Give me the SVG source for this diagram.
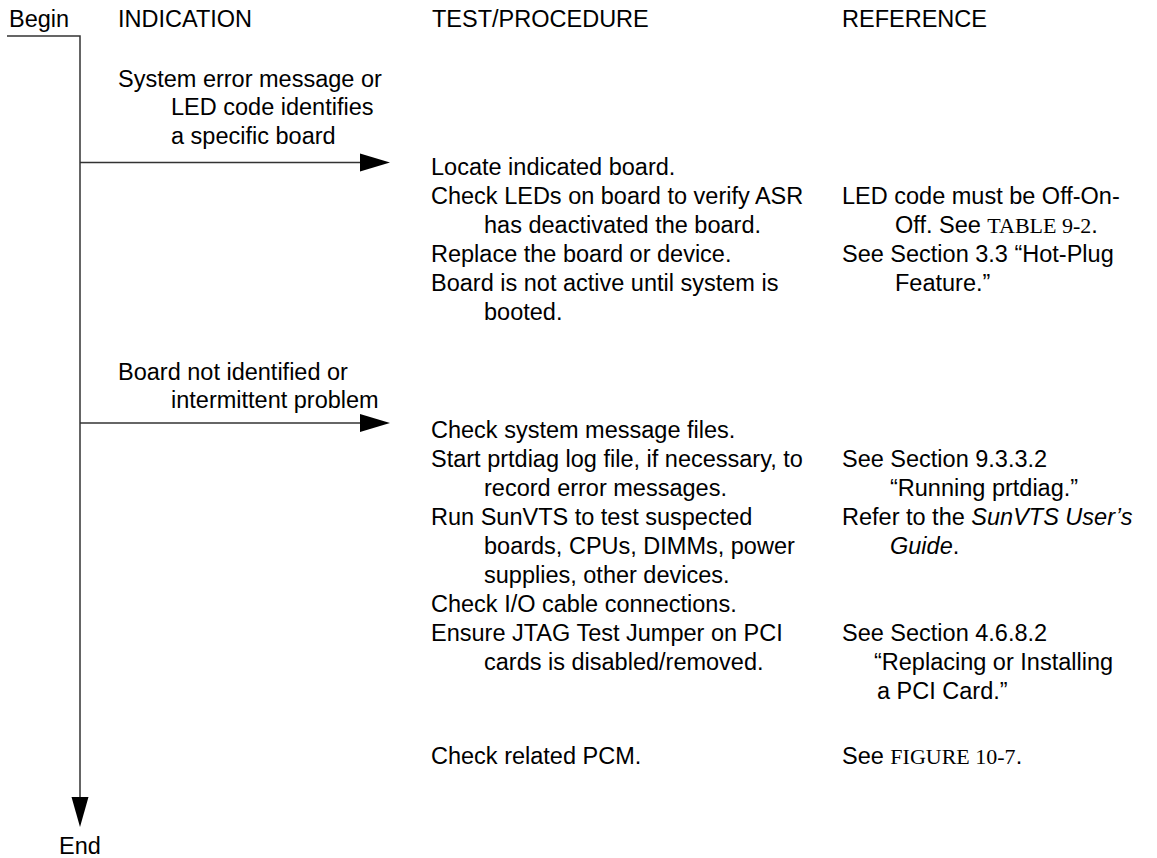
<svg xmlns="http://www.w3.org/2000/svg" width="1157" height="858" viewBox="0 0 1157 858">
<style>
text{font-family:"Liberation Sans",Arial,sans-serif;font-size:23.5px;fill:#000}
.serif{font-family:"Liberation Serif","Times New Roman",serif;font-size:22px}
.it{font-style:italic}
.ln{stroke:#333;stroke-width:1.5;fill:none}
.hd{fill:#000;stroke:none}
</style>
<rect width="1157" height="858" fill="#fff"/>
<g id="headers">
<text x="9" y="27">Begin</text>
<text x="118" y="27">INDICATION</text>
<text x="432" y="27">TEST/PROCEDURE</text>
<text x="842" y="27">REFERENCE</text>
</g>
<g id="connectors">
<polyline class="ln" points="7,36 80,36 80,798"/>
<line class="ln" x1="80" y1="162.5" x2="362" y2="162.5"/>
<polygon class="hd" points="360,153.5 390,162.5 360,171.5"/>
<line class="ln" x1="80" y1="423" x2="362" y2="423"/>
<polygon class="hd" points="360,414 390,423 360,432"/>
<polygon class="hd" points="71.5,797 88.5,797 80,827"/>
</g>
<g id="end">
<text x="80" y="854" text-anchor="middle">End</text>
</g>
<g id="indication1">
<text x="118" y="87">System error message or</text>
<text x="171" y="115">LED code identifies</text>
<text x="171" y="144">a specific board</text>
</g>
<g id="procedure1">
<text x="431" y="175">Locate indicated board.</text>
<text x="431" y="204">Check LEDs on board to verify ASR</text>
<text x="484" y="233">has deactivated the board.</text>
<text x="431" y="262">Replace the board or device.</text>
<text x="431" y="291">Board is not active until system is</text>
<text x="484" y="320">booted.</text>
</g>
<g id="reference1">
<text x="842" y="204">LED code must be Off-On-</text>
<text x="895" y="233">Off. See <tspan class="serif">TABLE 9-2</tspan>.</text>
<text x="842" y="262">See Section 3.3 “Hot-Plug</text>
<text x="895" y="291">Feature.”</text>
</g>
<g id="indication2">
<text x="118" y="380">Board not identified or</text>
<text x="171" y="408">intermittent problem</text>
</g>
<g id="procedure2">
<text x="431" y="438">Check system message files.</text>
<text x="431" y="467">Start prtdiag log file, if necessary, to</text>
<text x="484" y="496">record error messages.</text>
<text x="431" y="525">Run SunVTS to test suspected</text>
<text x="484" y="554">boards, CPUs, DIMMs, power</text>
<text x="484" y="583">supplies, other devices.</text>
<text x="431" y="612">Check I/O cable connections.</text>
<text x="431" y="641">Ensure JTAG Test Jumper on PCI</text>
<text x="484" y="670">cards is disabled/removed.</text>
<text x="431" y="764">Check related PCM.</text>
</g>
<g id="reference2">
<text x="842" y="467">See Section 9.3.3.2</text>
<text x="890" y="496">“Running prtdiag.”</text>
<text x="842" y="525">Refer to the <tspan class="it">SunVTS User’s</tspan></text>
<text x="890" y="554"><tspan class="it">Guide</tspan>.</text>
<text x="842" y="641">See Section 4.6.8.2</text>
<text x="874" y="670">“Replacing or Installing</text>
<text x="877" y="699">a PCI Card.”</text>
<text x="842" y="764">See <tspan class="serif">FIGURE 10-7</tspan>.</text>
</g>
</svg>
